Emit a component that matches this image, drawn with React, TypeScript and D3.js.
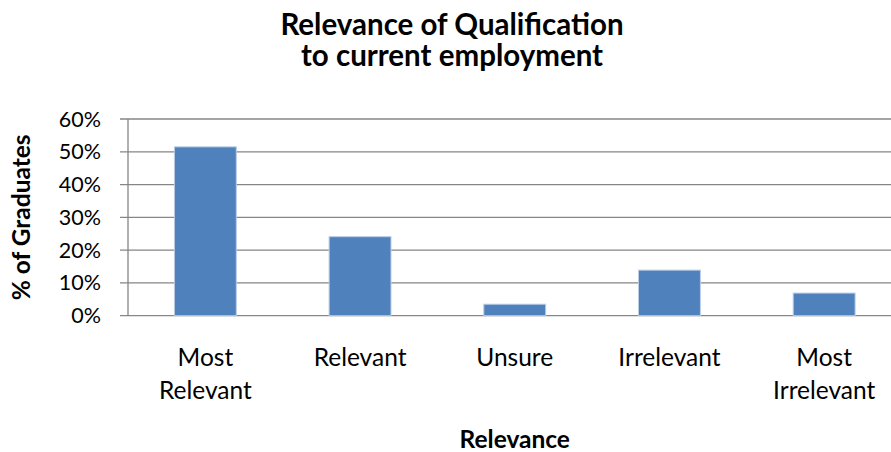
import React from "react";
import * as d3 from "d3";

const categories: string[][] = [
  ["Most", "Relevant"],
  ["Relevant"],
  ["Unsure"],
  ["Irrelevant"],
  ["Most", "Irrelevant"],
];
const categoryKeys = ["Most Relevant", "Relevant", "Unsure", "Irrelevant", "Most Irrelevant"];
const values = [0.515, 0.241, 0.035, 0.139, 0.069];
const yTicks = [0, 0.1, 0.2, 0.3, 0.4, 0.5, 0.6];
const titleLines = ["Relevance of Qualification", "to current employment"];
const xTitle = "Relevance";
const yTitle = "% of Graduates";

const W = 891;
const H = 452;
const FONT = "Lato, 'Open Sans', sans-serif";

export default function App() {
  const plotLeft = 128;
  const plotRight = 901.5;
  const plotTop = 119;
  const plotBottom = 315.7;

  const x = d3
    .scaleBand<string>()
    .domain(categoryKeys)
    .range([plotLeft, plotRight])
    .paddingInner(0.6)
    .paddingOuter(0.3);
  const y = d3.scaleLinear().domain([0, 0.6]).range([plotBottom, plotTop]);
  const fmt = d3.format(".0%");

  return (
    <svg
      width={W}
      height={H}
      style={{ position: "absolute", left: 0, top: 0, background: "#fff" }}
      fontFamily={FONT}
    >
      <rect x={0} y={0} width={W} height={H} fill="#fff" />
      {/* title */}
      {titleLines.map((t, i) => (
        <text
          key={t}
          x={452}
          y={35 + i * 31}
          textAnchor="middle"
          fontSize={29.5}
          fontWeight="bold"
          fill="#000"
        >
          {t}
        </text>
      ))}
      {/* gridlines */}
      {yTicks.map((t) => (
        <line
          key={"g" + t}
          x1={plotLeft - 8}
          x2={W}
          y1={y(t)}
          y2={y(t)}
          stroke="#868686"
          strokeWidth={1.3}
        />
      ))}
      {/* y axis */}
      <line x1={plotLeft} x2={plotLeft} y1={plotTop} y2={plotBottom} stroke="#868686" strokeWidth={1.3} />
      {yTicks.map((t) => (
        <text
          key={"t" + t}
          x={101}
          y={y(t) + 7.5}
          textAnchor="end"
          fontSize={21.5}
          fill="#000"
        >
          {fmt(t)}
        </text>
      ))}
      {/* bars */}
      {categoryKeys.map((c, i) => (
        <rect
          key={c}
          x={x(c)}
          y={y(values[i])}
          width={x.bandwidth()}
          height={y(0) - y(values[i])}
          fill="#4F81BD"
          stroke="#b9cde5"
          strokeWidth={1}
        />
      ))}
      {/* category labels */}
      {categoryKeys.map((c, i) =>
        categories[i].map((line, j) => (
          <text
            key={c + j}
            x={(x(c) as number) + x.bandwidth() / 2}
            y={366 + j * 33}
            textAnchor="middle"
            fontSize={24.5}
            fill="#000"
          >
            {line}
          </text>
        ))
      )}
      {/* x title */}
      <text
        x={(plotLeft + plotRight) / 2}
        y={448}
        textAnchor="middle"
        fontSize={24.5}
        fontWeight="bold"
        fill="#000"
      >
        {xTitle}
      </text>
      {/* y title */}
      <text
        transform={`translate(30, ${(plotTop + plotBottom) / 2}) rotate(-90)`}
        textAnchor="middle"
        fontSize={24.5}
        fontWeight="bold"
        fill="#000"
      >
        {yTitle}
      </text>
    </svg>
  );
}
